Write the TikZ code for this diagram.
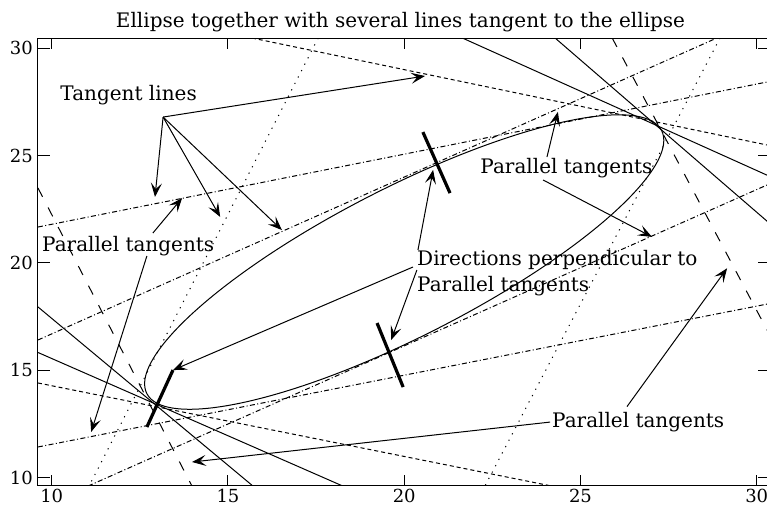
\documentclass[tikz,border=0pt]{standalone}
\usepackage{fontspec}
\setmainfont{DejaVu Serif}
\usepackage{tikz}
\usetikzlibrary{arrows.meta}

\begin{document}
\begin{tikzpicture}[x=17.625pt, y=10.74pt, line width=0.5pt,
    lab/.style={inner sep=0pt, font=\fontsize{10}{12}\selectfont},
    ticklab/.style={inner sep=0pt, font=\fontsize{9}{11}\selectfont},
    dashln/.style={dash pattern=on 2pt off 1.5pt},
    dashdotln/.style={dash pattern=on 2.5pt off 1.2pt on 0.5pt off 1.2pt},
    dotln/.style={dash pattern=on 0.6pt off 3pt},
    longdashln/.style={dash pattern=on 5pt off 6pt},
    thickmk/.style={line width=1.6pt},
    arr/.style={-{Stealth[length=7pt, width=5.5pt, inset=3pt]}}]
    \useasboundingbox (8.5333,8.7291) rectangle (30.2922,32.2393);

    % axes
    \draw (9.611,9.628) rectangle (30.378,30.470);
    \foreach \k in {10,15,...,30} {
        \draw (\k,9.628) -- ++(0,0.51);
        \draw (\k,30.470) -- ++(0,-0.51);
        \draw (9.611,\k) -- ++(0.34,0);
        \draw (30.378,\k) -- ++(-0.34,0);
        \node[ticklab, anchor=north] (xt\k) at (\k,9.474) {\k};
        \node[ticklab, anchor=east] (yt\k) at (9.48,\k) {\k};
    }

    % ellipse
    \draw plot[domain=0:360, samples=145, smooth]
        ({20+7.302*cos(\x)+0.961*sin(\x)}, {20.04+6.122*cos(\x)-3.084*sin(\x)});

    % tangent lines, in parallel pairs
    \begin{scope}
        \clip (9.611,9.628) rectangle (30.378,30.470);
        \draw[dashdotln] (9.61,21.67) -- (30.38,28.45);
        \draw[dashdotln] (9.61,11.43) -- (30.38,18.11);
        \draw[dashdotln] (9.61,16.41) -- (28.87,30.47);
        \draw[dashdotln] (11.03,9.61) -- (30.38,23.69);
        \draw[dashln] (15.68,30.47) -- (30.38,25.46);
        \draw[dashln] (9.61,14.41) -- (24.19,9.61);
        \draw (9.61,17.95) -- (15.71,9.61);
        \draw (24.28,30.47) -- (30.38,21.82);
        \draw (9.61,15.83) -- (18.26,9.61);
        \draw (21.65,30.47) -- (30.38,24.02);
        \draw[dotln] (28.96,30.47) -- (22.29,9.61);
        \draw[dotln] (17.56,30.47) -- (11.06,9.61);
        \draw[longdashln] (9.61,23.49) -- (13.98,9.61);
        \draw[longdashln] (25.90,30.47) -- (30.38,16.61);
    \end{scope}

    % perpendicular directions
    \draw[thickmk] (12.70,12.36) -- (13.44,15.01);
    \draw[thickmk] (20.53,26.09) -- (21.30,23.25);
    \draw[thickmk] (19.23,17.20) -- (19.97,14.22);

    % labels
    \node[lab, anchor=base] (title) at (19.895,30.936) {Ellipse together with several lines tangent to the ellipse};
    \node[lab, anchor=base west] (tanlab) at (10.235,27.551) {Tangent lines};
    \node[lab, anchor=base west] (parleft) at (9.716,20.508) {Parallel tangents};
    \node[lab, anchor=base west] (parup) at (22.150,24.171) {Parallel tangents};
    \node[lab, anchor=base west] (dirtop) at (20.355,19.902) {Directions perpendicular to};
    \node[lab, anchor=base west] (dirbot) at (20.355,18.659) {Parallel tangents};
    \node[lab, anchor=base west] (parlow) at (24.184,12.314) {Parallel tangents};

    % arrow ends
    \coordinate (tanfoot) at (13.16,26.79);
    \coordinate (tan1) at (20.59,28.70);
    \coordinate (tan2) at (12.93,23.07);
    \coordinate (tan3) at (14.78,22.14);
    \coordinate (tan4) at (16.53,21.53);
    \coordinate (parlefttop) at (12.87,21.39);
    \coordinate (parleftbot) at (12.70,20.32);
    \coordinate (parleft1) at (13.70,23.02);
    \coordinate (parleft2) at (11.12,12.13);
    \coordinate (paruptop) at (24.05,24.93);
    \coordinate (parupbot) at (23.94,23.86);
    \coordinate (parup1) at (24.36,27.03);
    \coordinate (parup2) at (27.03,21.21);
    \coordinate (dirmid) at (20.25,19.81);
    \coordinate (dirup) at (20.39,20.60);
    \coordinate (dirlow) at (20.36,19.67);
    \coordinate (dir1) at (13.44,15.01);
    \coordinate (dir2) at (20.82,24.33);
    \coordinate (dir3) at (19.63,16.41);
    \coordinate (parlowtop) at (26.32,13.31);
    \coordinate (parlowleft) at (24.14,12.59);
    \coordinate (parlow1) at (29.16,19.75);
    \coordinate (parlow2) at (13.98,10.73);

    \draw[arr] (tanfoot) -- (tan1);
    \draw[arr] (tanfoot) -- (tan2);
    \draw[arr] (tanfoot) -- (tan3);
    \draw[arr] (tanfoot) -- (tan4);
    \draw[arr] (parlefttop) -- (parleft1);
    \draw[arr] (parleftbot) -- (parleft2);
    \draw[arr] (paruptop) -- (parup1);
    \draw[arr] (parupbot) -- (parup2);
    \draw[arr] (dirmid) -- (dir1);
    \draw[arr] (dirup) -- (dir2);
    \draw[arr] (dirlow) -- (dir3);
    \draw[arr] (parlowtop) -- (parlow1);
    \draw[arr] (parlowleft) -- (parlow2);
\end{tikzpicture}
\end{document}
